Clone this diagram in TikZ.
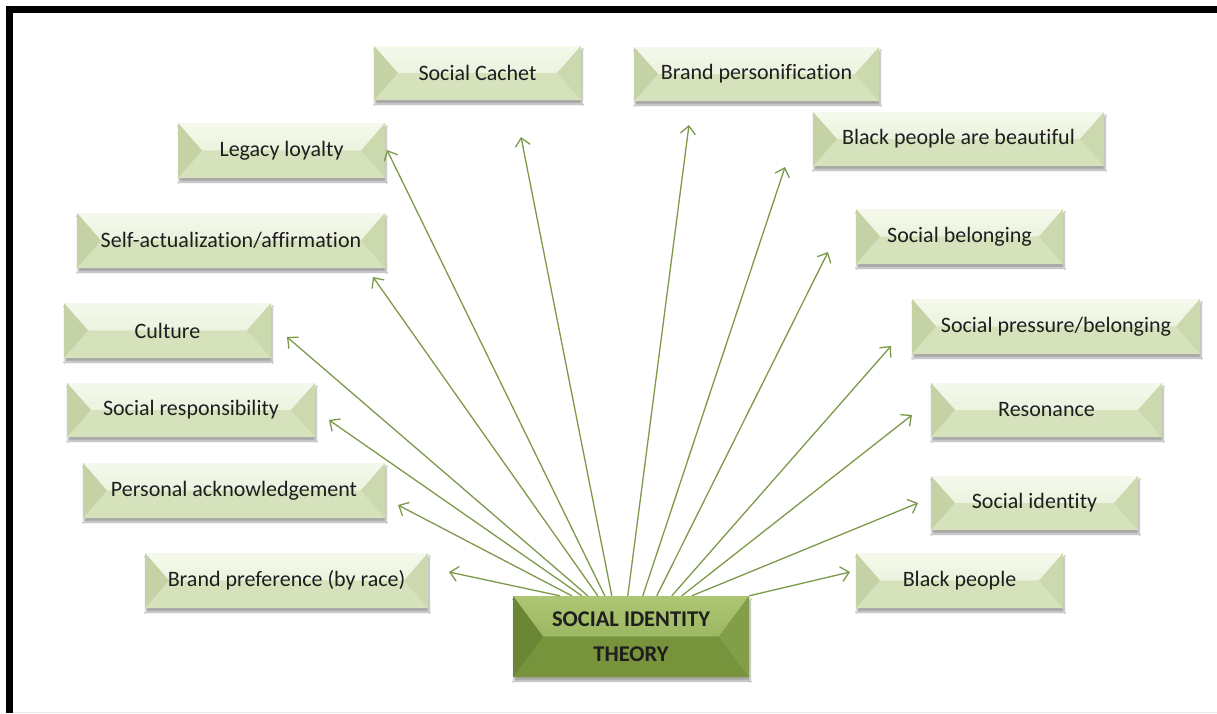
\documentclass[tikz,border=0pt]{standalone}
\usepackage{fontspec}
\setmainfont[Ligatures={NoCommon}]{Carlito}
\usetikzlibrary{arrows.meta,shadows.blur}

% pale leaf boxes
\definecolor{leafface}{HTML}{DAE5C2}
\definecolor{leaftopA}{HTML}{F5F9EC}
\definecolor{leaftopB}{HTML}{E3ECD0}
\definecolor{leafbot}{HTML}{D6E2BB}
\definecolor{leafleft}{HTML}{C5D2A5}
\definecolor{leafright}{HTML}{CCD9AE}
% central box
\definecolor{hubface}{HTML}{7C983F}
\definecolor{hubtopA}{HTML}{ADC673}
\definecolor{hubtopB}{HTML}{8BA852}
\definecolor{hubbot}{HTML}{77933C}
\definecolor{hubleft}{HTML}{6A8533}
\definecolor{hubright}{HTML}{829E48}
% connectors
\definecolor{linkgreen}{HTML}{7C9A4A}
\definecolor{inktext}{HTML}{1E1E1E}

\begin{document}
\begin{tikzpicture}[x=1pt,y=-1pt,
  bevelbox/.style n args={7}{% face, top light, top dark, bottom, left, right, bevel width
    fill=#1, draw=none, inner sep=0pt, align=center, text=inktext,
    blur shadow={shadow xshift=1pt, shadow yshift=-4pt, shadow blur steps=6, shadow opacity=35},
    path picture={
      \shade[top color=#2, bottom color=#3]
        (path picture bounding box.north west) -- (path picture bounding box.north east)
        -- ([xshift=-#7]path picture bounding box.east) -- ([xshift=#7]path picture bounding box.west) -- cycle;
      \fill[#4]
        (path picture bounding box.south west) -- (path picture bounding box.south east)
        -- ([xshift=-#7]path picture bounding box.east) -- ([xshift=#7]path picture bounding box.west) -- cycle;
      \fill[#5]
        (path picture bounding box.north west) -- ([xshift=#7]path picture bounding box.west)
        -- (path picture bounding box.south west) -- cycle;
      \fill[#6]
        (path picture bounding box.north east) -- ([xshift=-#7]path picture bounding box.east)
        -- (path picture bounding box.south east) -- cycle;
    }},
  leaf/.style={bevelbox={leafface}{leaftopA}{leaftopB}{leafbot}{leafleft}{leafright}{24pt},
    font=\fontsize{22}{25}\selectfont},
  hub/.style={bevelbox={hubface}{hubtopA}{hubtopB}{hubbot}{hubleft}{hubright}{30pt},
    font=\bfseries\fontsize{22.5}{35}\selectfont},
  link/.style={draw=linkgreen, line width=1.3pt,
    -{Straight Barb[length=8pt, width=15pt, line width=1.3pt]}},
]
\useasboundingbox (0,0) rectangle (1217,713);
\fill[white] (0,0) rectangle (1217,713);

% frame
\draw[line width=7pt] (9.5,713) -- (9.5,9.5) -- (1217,9.5);
\draw[black!8, line width=1pt] (13,712) -- (1217,712);

% outer boxes
\node[leaf, minimum width=207pt, minimum height=54pt] (sc)  at (477.5,73)  {Social Cachet};
\node[leaf, minimum width=245pt, minimum height=54pt] (bp)  at (756.5,74)  {Brand\ personification};
\node[leaf, minimum width=207pt, minimum height=55pt] (ll)  at (281.5,150.5) {Legacy loyalty};
\node[leaf, minimum width=291pt, minimum height=54pt] (bb)  at (958.5,139) {Black people\ are beautiful};
\node[leaf, minimum width=308pt, minimum height=55pt] (sa)  at (231,240.5) {Self-actualization/affirmation};
\node[leaf, minimum width=207pt, minimum height=55pt] (sbl) at (959.5,236.5) {Social belonging};
\node[leaf, minimum width=207pt, minimum height=55pt] (cu)  at (167.5,330.5) {Culture};
\node[leaf, minimum width=288pt, minimum height=55pt] (spb) at (1056,326.5) {Social pressure/belonging};
\node[leaf, minimum width=248pt, minimum height=54pt] (sr)  at (191,410)   {Social responsibility};
\node[leaf, minimum width=231pt, minimum height=54pt] (re)  at (1046.5,410) {Resonance};
\node[leaf, minimum width=302pt, minimum height=55pt] (pa)  at (234,490.5) {Personal\ acknowledgement};
\node[leaf, minimum width=207pt, minimum height=54pt] (si)  at (1034.5,503) {Social identity};
\node[leaf, minimum width=283pt, minimum height=55pt] (bpr) at (286.5,580.5) {Brand preference\ (by race)};
\node[leaf, minimum width=207pt, minimum height=55pt] (blp) at (959.5,580.5) {Black people};

% central box
\node[hub, minimum width=236pt, minimum height=81pt] (hub) at (631,636.5) {SOCIAL IDENTITY\\THEORY};

% arrow tips
\coordinate (t-bpr) at (449,572);
\coordinate (t-pa)  at (398,505);
\coordinate (t-sr)  at (329,420);
\coordinate (t-cu)  at (287,337);
\coordinate (t-sa)  at (373,277);
\coordinate (t-ll)  at (387,150);
\coordinate (t-sc)  at (521,137);
\coordinate (t-bp)  at (689,125);
\coordinate (t-bb)  at (785,167);
\coordinate (t-sbl) at (828,252);
\coordinate (t-spb) at (891,346);
\coordinate (t-re)  at (912,415);
\coordinate (t-si)  at (918,503);
\coordinate (t-blp) at (850,572);

% connectors fanning out of the central box
\draw[link] ([xshift=47pt]hub.north west)  -- (t-bpr);
\draw[link] ([xshift=59pt]hub.north west)  -- (t-pa);
\draw[link] ([xshift=69pt]hub.north west)  -- (t-sr);
\draw[link] ([xshift=75pt]hub.north west)  -- (t-cu);
\draw[link] ([xshift=85pt]hub.north west)  -- (t-sa);
\draw[link] ([xshift=92pt]hub.north west)  -- (t-ll);
\draw[link] ([xshift=99pt]hub.north west)  -- (t-sc);
\draw[link] ([xshift=115pt]hub.north west) -- (t-bp);
\draw[link] ([xshift=130pt]hub.north west) -- (t-bb);
\draw[link] ([xshift=144pt]hub.north west) -- (t-sbl);
\draw[link] ([xshift=159pt]hub.north west) -- (t-spb);
\draw[link] ([xshift=169pt]hub.north west) -- (t-re);
\draw[link] ([xshift=179pt]hub.north west) -- (t-si);
\draw[link] (hub.north east) -- (t-blp);
\end{tikzpicture}
\end{document}
